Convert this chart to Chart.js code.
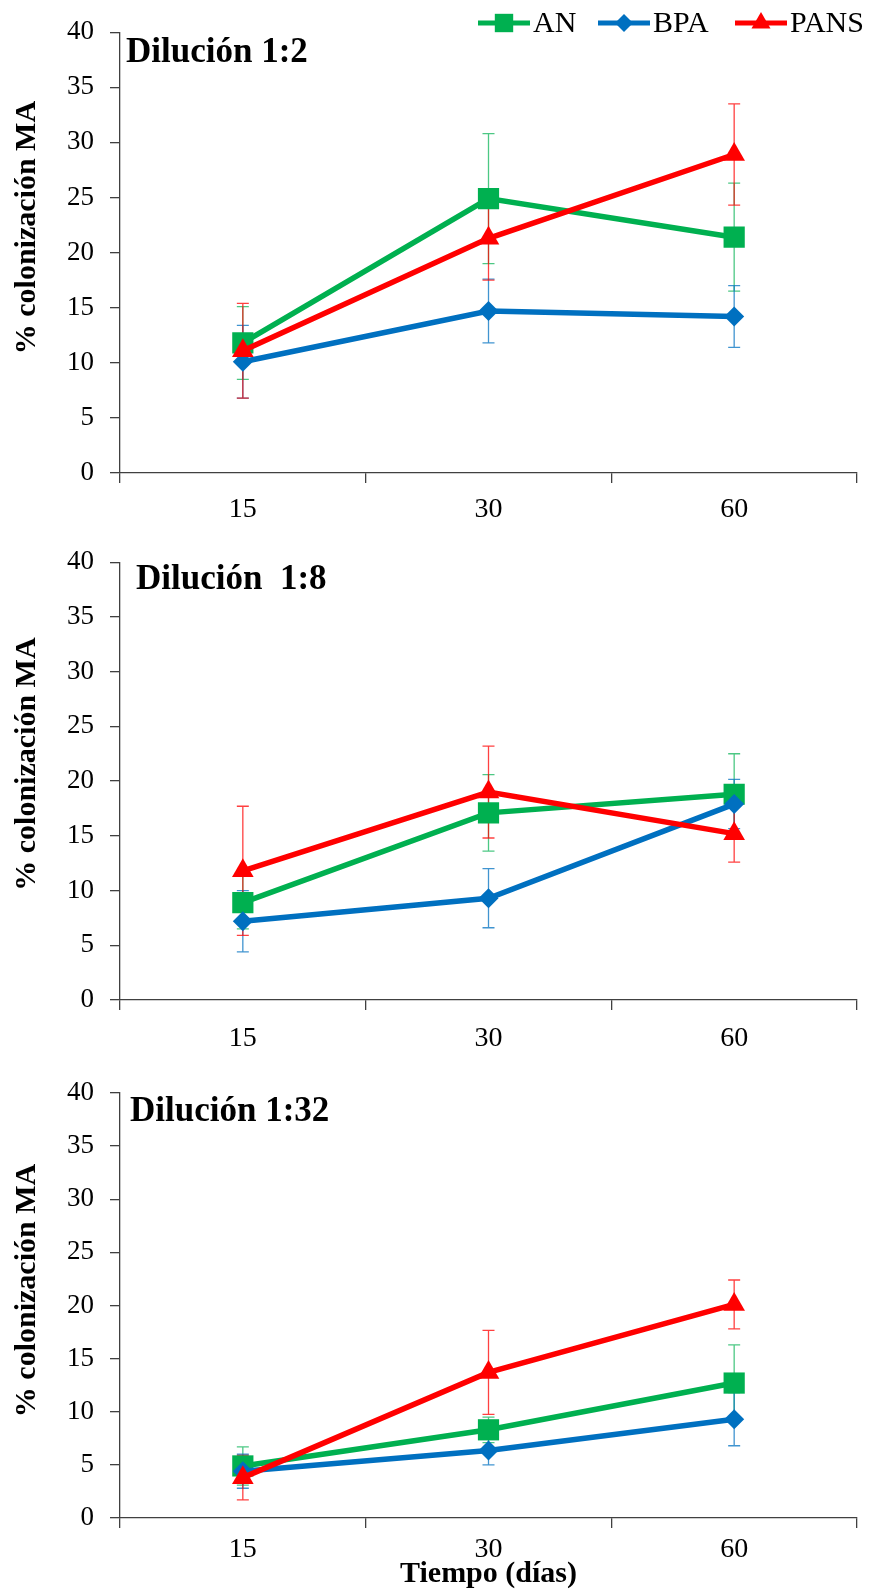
<!DOCTYPE html>
<html>
<head>
<meta charset="utf-8">
<script src="https://cdn.jsdelivr.net/npm/chart.js@4.4.1/dist/chart.umd.min.js"></script>
<style>
  html, body { margin: 0; padding: 0; background: #fff; }
  #wrap { position: relative; width: 872px; height: 1593px; }
  canvas { position: absolute; left: 0; }
</style>
</head>
<body>
<div id="wrap">
  <canvas id="c12" width="872" height="530" style="top:0"></canvas>
  <canvas id="c18" width="872" height="530" style="top:530px"></canvas>
  <canvas id="c132" width="872" height="533" style="top:1060px"></canvas>
</div>
<script>
const dias = ['15', '30', '60'];
const tratamientos = ['AN', 'BPA', 'PANS'];

// Dilución 1:2
const an_12 = [11.8, 24.9, 21.4];
const an_12_err = [3.3, 5.9, 4.9];
const bpa_12 = [10.1, 14.7, 14.2];
const bpa_12_err = [3.3, 2.9, 2.8];
const pans_12 = [11.1, 21.3, 28.9];
const pans_12_err = [4.3, 3.8, 4.6];

// Dilución 1:8
const an_18 = [8.9, 17.1, 18.8];
const an_18_err = [2.4, 3.5, 3.7];
const bpa_18 = [7.2, 9.3, 17.9];
const bpa_18_err = [2.8, 2.7, 2.25];
const pans_18 = [11.8, 19.0, 15.2];
const pans_18_err = [5.9, 4.2, 2.6];

// Dilución 1:32
const an_132 = [4.9, 8.3, 12.7];
const an_132_err = [1.8, 1.2, 3.6];
const bpa_132 = [4.4, 6.35, 9.3];
const bpa_132_err = [1.6, 1.35, 2.5];
const pans_132 = [3.8, 13.7, 20.1];
const pans_132_err = [2.1, 3.95, 2.3];

const colores = ['#00B050', '#0070C0', '#FF0000'];
const coloresError = ['rgba(0,176,80,0.7)', 'rgba(0,112,192,0.75)', 'rgba(255,0,0,0.75)'];
const marcas = ['rect', 'rectRot', 'triangle'];
const radios = [15, 10, 12.5];

const SERIF = '"Liberation Serif", "Times New Roman", serif';
Chart.defaults.font.family = SERIF;
Chart.defaults.color = '#000';

// barras de error (media +/- error) detras de las lineas
const barrasError = {
  id: 'barrasError',
  beforeDatasetsDraw(chart) {
    const ctx = chart.ctx;
    const sx = chart.scales.x, sy = chart.scales.y;
    chart.data.datasets.forEach((ds) => {
      ctx.save();
      ctx.strokeStyle = ds.errorColor;
      ctx.lineWidth = 1.3;
      ds.data.forEach((v, j) => {
        const px = sx.getPixelForValue(j);
        const arriba = sy.getPixelForValue(v + ds.errors[j]);
        const abajo = sy.getPixelForValue(v - ds.errors[j]);
        ctx.beginPath();
        ctx.moveTo(px, arriba); ctx.lineTo(px, abajo);
        ctx.moveTo(px - 6, arriba); ctx.lineTo(px + 6, arriba);
        ctx.moveTo(px - 6, abajo); ctx.lineTo(px + 6, abajo);
        ctx.stroke();
      });
      ctx.restore();
    });
  }
};

// "Dilución ..." dentro del area y titulo vertical del eje y
const rotulo = {
  id: 'rotulo',
  afterDraw(chart, args, opts) {
    const ctx = chart.ctx, a = chart.chartArea;
    ctx.save();
    ctx.fillStyle = '#000';
    ctx.font = 'bold 35px ' + SERIF;
    ctx.textBaseline = 'alphabetic';
    ctx.fillText(opts.text, a.left + opts.dx, a.top + opts.dy);

    ctx.font = 'bold 30px ' + SERIF;
    ctx.textAlign = 'center';
    ctx.textBaseline = 'middle';
    ctx.translate(27, (a.top + a.bottom) / 2 - opts.subeY);
    ctx.rotate(-Math.PI / 2);
    ctx.fillText('% colonización MA', 0, 0);
    ctx.restore();
  }
};

// leyenda arriba a la derecha (linea + marcador + nombre)
const leyenda = {
  id: 'leyenda',
  afterDraw(chart, args, opts) {
    if (!opts.show) return;
    const ctx = chart.ctx;
    const tam = [13, 9, 11];
    ctx.save();
    ctx.font = '30px ' + SERIF;
    ctx.textBaseline = 'middle';
    chart.data.datasets.forEach((ds, i) => {
      const x0 = opts.xs[i], y0 = opts.y;
      ctx.strokeStyle = ds.borderColor;
      ctx.lineWidth = 5;
      ctx.beginPath();
      ctx.moveTo(x0, y0); ctx.lineTo(x0 + 52, y0);
      ctx.stroke();
      ctx.fillStyle = ds.borderColor;
      Chart.helpers.drawPoint(ctx, { pointStyle: ds.pointStyle, radius: tam[i], rotation: 0, borderWidth: 0 }, x0 + 26, y0);
      ctx.fillStyle = '#000';
      ctx.fillText(ds.label, x0 + 55, y0 + 1);
    });
    ctx.restore();
  }
};

function series(valores, errores) {
  return tratamientos.map((t, i) => ({
    label: t,
    data: valores[i],
    errors: errores[i],
    errorColor: coloresError[i],
    borderColor: colores[i],
    backgroundColor: colores[i],
    borderWidth: 5.5,
    pointStyle: marcas[i],
    pointRadius: radios[i],
    pointHoverRadius: radios[i],
    pointBackgroundColor: colores[i],
    pointBorderColor: colores[i],
    pointBorderWidth: 0,
    tension: 0,
    order: 3 - i
  }));
}

function panel(id, valores, errores, cfg) {
  new Chart(document.getElementById(id), {
    type: 'line',
    data: { labels: dias, datasets: series(valores, errores) },
    options: {
      responsive: false,
      animation: false,
      devicePixelRatio: 1,
      layout: { padding: { top: cfg.top, right: 6, left: 0, bottom: 0 } },
      plugins: {
        legend: { display: false },
        tooltip: { enabled: false },
        rotulo: { text: cfg.texto, dx: cfg.dx, dy: cfg.dy, subeY: cfg.subeY },
        leyenda: { show: !!cfg.leyenda, xs: [478, 598, 735], y: 23 }
      },
      scales: {
        x: {
          offset: true,
          grid: { offset: true, drawOnChartArea: false, tickLength: 10, color: '#404040', lineWidth: 1.3 },
          border: { color: '#404040', width: 1.3 },
          ticks: { color: '#000', font: { size: 28 }, padding: cfg.padX },
          title: {
            display: !!cfg.tituloX,
            text: 'Tiempo (días)',
            color: '#000',
            font: { size: 30, weight: 'bold' },
            padding: { top: 0, bottom: 1 }
          },
          afterFit(s) { s.height = cfg.altoX; }
        },
        y: {
          min: 0,
          max: 40,
          ticks: { stepSize: 5, color: '#000', font: { size: 27 }, padding: 16 },
          grid: { drawOnChartArea: false, tickLength: 10, color: '#404040', lineWidth: 1.3 },
          border: { color: '#404040', width: 1.3 },
          afterFit(s) { s.width = 120; }
        }
      }
    },
    plugins: [barrasError, rotulo, leyenda]
  });
}

panel('c12',
  [an_12, bpa_12, pans_12], [an_12_err, bpa_12_err, pans_12_err],
  { top: 28, altoX: 57, padX: 10, texto: 'Dilución 1:2', dx: 6, dy: 30, subeY: 25, leyenda: true });

panel('c18',
  [an_18, bpa_18, pans_18], [an_18_err, bpa_18_err, pans_18_err],
  { top: 24, altoX: 60, padX: 12, texto: 'Dilución  1:8', dx: 16, dy: 27, subeY: 17 });

panel('c132',
  [an_132, bpa_132, pans_132], [an_132_err, bpa_132_err, pans_132_err],
  { top: 33, altoX: 75, padX: 5, texto: 'Dilución 1:32', dx: 10, dy: 28, subeY: 15, tituloX: true });
</script>
</body>
</html>
